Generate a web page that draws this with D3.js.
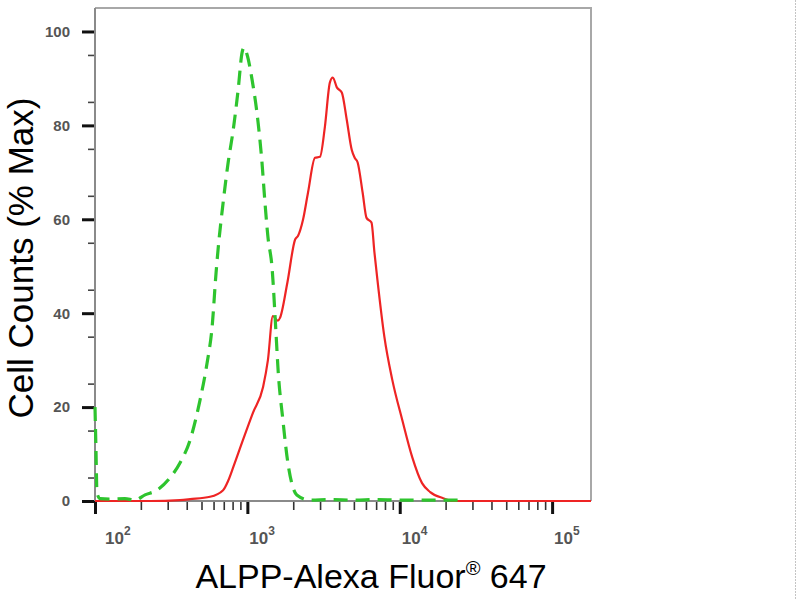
<!DOCTYPE html>
<html>
<head>
<meta charset="utf-8">
<script src="https://cdn.jsdelivr.net/npm/d3@7"></script>
<style>
  html, body { margin: 0; padding: 0; background: #ffffff; }
  svg { display: block; }
</style>
</head>
<body>
<svg id="chart" width="800" height="600"></svg>
<script>
// ---- data ----
const controlX = [100, 101.5, 103, 108, 125, 157, 183, 213, 255, 310, 361, 421, 489, 544, 587, 623, 642, 693, 748, 808, 870, 923, 952, 995, 1073, 1176, 1247, 1305, 1364, 1452, 1540, 1591, 1710, 1845, 1970, 2111, 2571, 3500, 5000, 7000, 10000, 15000, 25000];
const controlY = [20.0, 10.9, 1.7, 0.5, 0.4, 0.5, 0.2, 1.3, 2.3, 4.9, 8.1, 13.0, 21.5, 29.4, 37.1, 48.6, 53.5, 63.5, 72.1, 79.1, 87.6, 95.5, 96.6, 95.1, 89.8, 80.6, 72.1, 63.5, 56.3, 49.7, 36.0, 27.9, 17.3, 8.1, 3.4, 1.3, 0.2, 0.3, 0.2, 0.3, 0.2, 0.2, 0.2];

const alppX = [100, 230, 361, 421, 569, 693, 748, 808, 936, 1089, 1268, 1364, 1470, 1585, 1637, 1830, 2058, 2152, 2318, 2501, 2778, 2995, 3227, 3478, 3637, 3864, 4166, 4490, 4840, 5062, 5294, 5707, 6054, 6526, 6825, 7138, 7925, 8936, 10380, 12060, 14010, 15850, 19270, 22430, 180000];
const alppY = [0, 0, 0.2, 0.4, 0.9, 2.3, 4.3, 7.2, 13.0, 18.8, 24.3, 30.0, 39.4, 38.4, 39.0, 46.5, 55.7, 56.5, 59.9, 65.7, 73.1, 73.3, 79.7, 89.1, 90.2, 88.1, 87.0, 81.2, 74.8, 73.1, 72.1, 65.7, 60.3, 59.3, 52.9, 47.1, 35.0, 25.8, 17.3, 9.4, 3.8, 1.9, 0.6, 0, 0];

const xMajorTicks = [1e2, 1e3, 1e4, 1e5];
const xTickExponents = ["2", "3", "4", "5"];
const yMajorTicks = [0, 20, 40, 60, 80, 100];
const xTitle = "ALPP-Alexa Fluor";
const xTitleSup = "®";
const xTitleEnd = " 647";
const yTitle = "Cell Counts (% Max)";

// ---- layout ----
const svg = d3.select("#chart");
const pLeft = 95, pRight = 591, pTop = 8, pBottom = 501;

const x = d3.scaleLog().domain([100, 180000]).range([pLeft, pRight]);
const y = d3.scaleLinear().domain([0, 105]).range([pBottom, pTop]);

// minor ticks
const xMinor = [];
for (let e = 2; e <= 5; e++) for (let m = 2; m <= 9; m++) { const v = m * Math.pow(10, e); if (v <= 180000) xMinor.push(v); }
const yMinor = d3.range(5, 105, 10);

// right dotted separator
svg.append("line").attr("x1", 795.5).attr("x2", 795.5).attr("y1", 0).attr("y2", 600)
  .attr("stroke", "#c4c4c4").attr("stroke-width", 1).attr("stroke-dasharray", "2,1");

// frame (top and right)
svg.append("path")
  .attr("d", `M${pLeft},${pTop}H${pRight}V${pBottom}`)
  .attr("fill", "none").attr("stroke", "#a8a8a8").attr("stroke-width", 2);

// minor x ticks
svg.append("g").attr("transform", `translate(0,${pBottom})`)
  .call(d3.axisBottom(x).tickValues(xMinor).tickSize(9).tickFormat(""))
  .call(g => g.select(".domain").remove())
  .call(g => g.selectAll("line").attr("stroke", "#333").attr("stroke-width", 1.6));

// major x ticks
svg.append("g").attr("transform", `translate(0,${pBottom})`)
  .call(d3.axisBottom(x).tickValues(xMajorTicks).tickSize(13).tickFormat(""))
  .call(g => g.select(".domain").remove())
  .call(g => g.selectAll("line").attr("stroke", "#111").attr("stroke-width", 3));

// minor y ticks
svg.append("g").attr("transform", `translate(${pLeft},0)`)
  .call(d3.axisLeft(y).tickValues(yMinor).tickSize(7).tickFormat(""))
  .call(g => g.select(".domain").remove())
  .call(g => g.selectAll("line").attr("stroke", "#444").attr("stroke-width", 1.6));

// major y ticks + labels
svg.append("g").attr("transform", `translate(${pLeft},0)`)
  .call(d3.axisLeft(y).tickValues(yMajorTicks).tickSize(13).tickPadding(12).tickFormat(d3.format("d")))
  .call(g => g.select(".domain").remove())
  .call(g => g.selectAll("line").attr("stroke", "#111").attr("stroke-width", 3))
  .call(g => g.selectAll("text")
    .attr("font-family", "'Liberation Sans', Arial, sans-serif")
    .attr("font-size", 15).attr("font-weight", "bold").attr("fill", "#555"));

// axis lines (left and bottom)
svg.append("line").attr("x1", pLeft).attr("x2", pLeft).attr("y1", pTop).attr("y2", pBottom)
  .attr("stroke", "#8a8a8a").attr("stroke-width", 2);
svg.append("line").attr("x1", pLeft).attr("x2", pRight).attr("y1", pBottom).attr("y2", pBottom)
  .attr("stroke", "#8a8a8a").attr("stroke-width", 2);

// x tick labels with superscripts
const xl = svg.append("g").attr("font-family", "'Liberation Sans', Arial, sans-serif")
  .attr("font-weight", "bold").attr("fill", "#555");
xMajorTicks.forEach((v, i) => {
  const px = x(v) + (i === 0 ? 10 : 2);
  const t = xl.append("text").attr("x", px).attr("y", 544).attr("font-size", 17);
  t.append("tspan").text("10");
  t.append("tspan").attr("font-size", 12).attr("dy", -9).text(xTickExponents[i]);
});

// curves
const line = d3.line().x(d => x(d[0])).y(d => y(d[1])).curve(d3.curveMonotoneX);
const alpp = alppX.map((v, i) => [v, alppY[i]]);
const control = controlX.map((v, i) => [v, controlY[i]]);

svg.append("path").datum(alpp).attr("d", line)
  .attr("fill", "none").attr("stroke", "#ee2424").attr("stroke-width", 2.2).attr("stroke-linejoin", "round");
svg.append("path").datum(control).attr("d", line)
  .attr("fill", "none").attr("stroke", "#2ec42e").attr("stroke-width", 3.2)
  .attr("stroke-dasharray", "14,8");

// titles
const xt = svg.append("text").attr("x", 371).attr("y", 588).attr("text-anchor", "middle")
  .attr("font-family", "'Liberation Sans', Arial, sans-serif").attr("font-size", 34).attr("fill", "#000");
xt.append("tspan").text(xTitle);
xt.append("tspan").attr("font-size", 20).attr("dy", -13).text(xTitleSup);
xt.append("tspan").attr("dy", 13).text(xTitleEnd);

svg.append("text").attr("transform", "translate(33,258) rotate(-90)").attr("text-anchor", "middle")
  .attr("font-family", "'Liberation Sans', Arial, sans-serif").attr("font-size", 35).attr("fill", "#000")
  .text(yTitle);
</script>
</body>
</html>
